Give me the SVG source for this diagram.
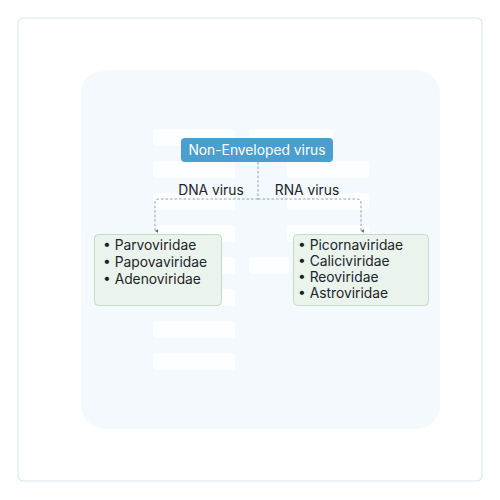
<svg xmlns="http://www.w3.org/2000/svg" width="500" height="500" viewBox="0 0 500 500">
<defs>
<style>
.t{font-family:Inter,"Liberation Sans",sans-serif;font-size:13.8px;fill:#1c242b}
.ghost{fill:#ffffff;opacity:0.75}
.leaf{fill:#eaf4ec;stroke:#c3dbc7;stroke-width:1}
.conn{fill:none;stroke:#6f8e98;stroke-width:0.8;stroke-dasharray:2.5 2}
</style>
<marker id="ah" viewBox="0 0 6 6" refX="3" refY="5" markerWidth="4" markerHeight="4" orient="auto" markerUnits="userSpaceOnUse">
<path d="M0,0 L6,0 L3,5 z" fill="#3f6f7f"/>
</marker>
</defs>
<rect x="0" y="0" width="500" height="500" fill="#ffffff"/>
<rect x="18" y="18" width="464" height="463" rx="5" fill="#ffffff" stroke="#dde8f0" stroke-width="1.2"/>
<rect x="81" y="70" width="359" height="359" rx="24" fill="#f3f9fd"/>
<g id="ghosts">
<rect class="ghost" x="153" y="129" width="82" height="17" rx="3"/>
<rect class="ghost" x="249" y="129" width="84" height="17" rx="3"/>
<rect class="ghost" x="153" y="161" width="82" height="17" rx="3"/>
<rect class="ghost" x="287" y="161" width="82" height="17" rx="3"/>
<rect class="ghost" x="153" y="193" width="82" height="17" rx="3"/>
<rect class="ghost" x="287" y="193" width="82" height="17" rx="3"/>
<rect class="ghost" x="153" y="225" width="82" height="17" rx="3"/>
<rect class="ghost" x="287" y="225" width="82" height="17" rx="3"/>
<rect class="ghost" x="153" y="257" width="82" height="17" rx="3"/>
<rect class="ghost" x="249" y="257" width="40" height="17" rx="3"/>
<rect class="ghost" x="153" y="289" width="82" height="17" rx="3"/>
<rect class="ghost" x="153" y="321" width="82" height="17" rx="3"/>
<rect class="ghost" x="153" y="353" width="82" height="17" rx="3"/>
</g>
<g id="connectors">
<path class="conn" d="M258,162 V199"/>
<path class="conn" d="M258,199 H159 Q155,199 155,203 V231" marker-end="url(#ah)"/>
<path class="conn" d="M258,199 H357 Q361,199 361,203 V231" marker-end="url(#ah)"/>
<text class="t" x="211" y="195" text-anchor="middle">DNA virus</text>
<text class="t" x="307" y="195" text-anchor="middle">RNA virus</text>
</g>
<g id="root">
<rect x="181" y="138" width="152" height="24" rx="4" fill="#4a9fd0"/>
<text class="t" x="257" y="155" text-anchor="middle" style="fill:#ffffff">Non-Enveloped virus</text>
</g>
<g id="dna">
<rect class="leaf" x="94.500" y="234.500" width="127" height="71" rx="4"/>
<text class="t" x="103" y="250">• Parvoviridae</text>
<text class="t" x="103" y="267">• Papovaviridae</text>
<text class="t" x="103" y="284">• Adenoviridae</text>
</g>
<g id="rna">
<rect class="leaf" x="293.500" y="234.500" width="135" height="71" rx="4"/>
<text class="t" x="298" y="250">• Picornaviridae</text>
<text class="t" x="298" y="266">• Caliciviridae</text>
<text class="t" x="298" y="282">• Reoviridae</text>
<text class="t" x="298" y="298">• Astroviridae</text>
</g>
</svg>
